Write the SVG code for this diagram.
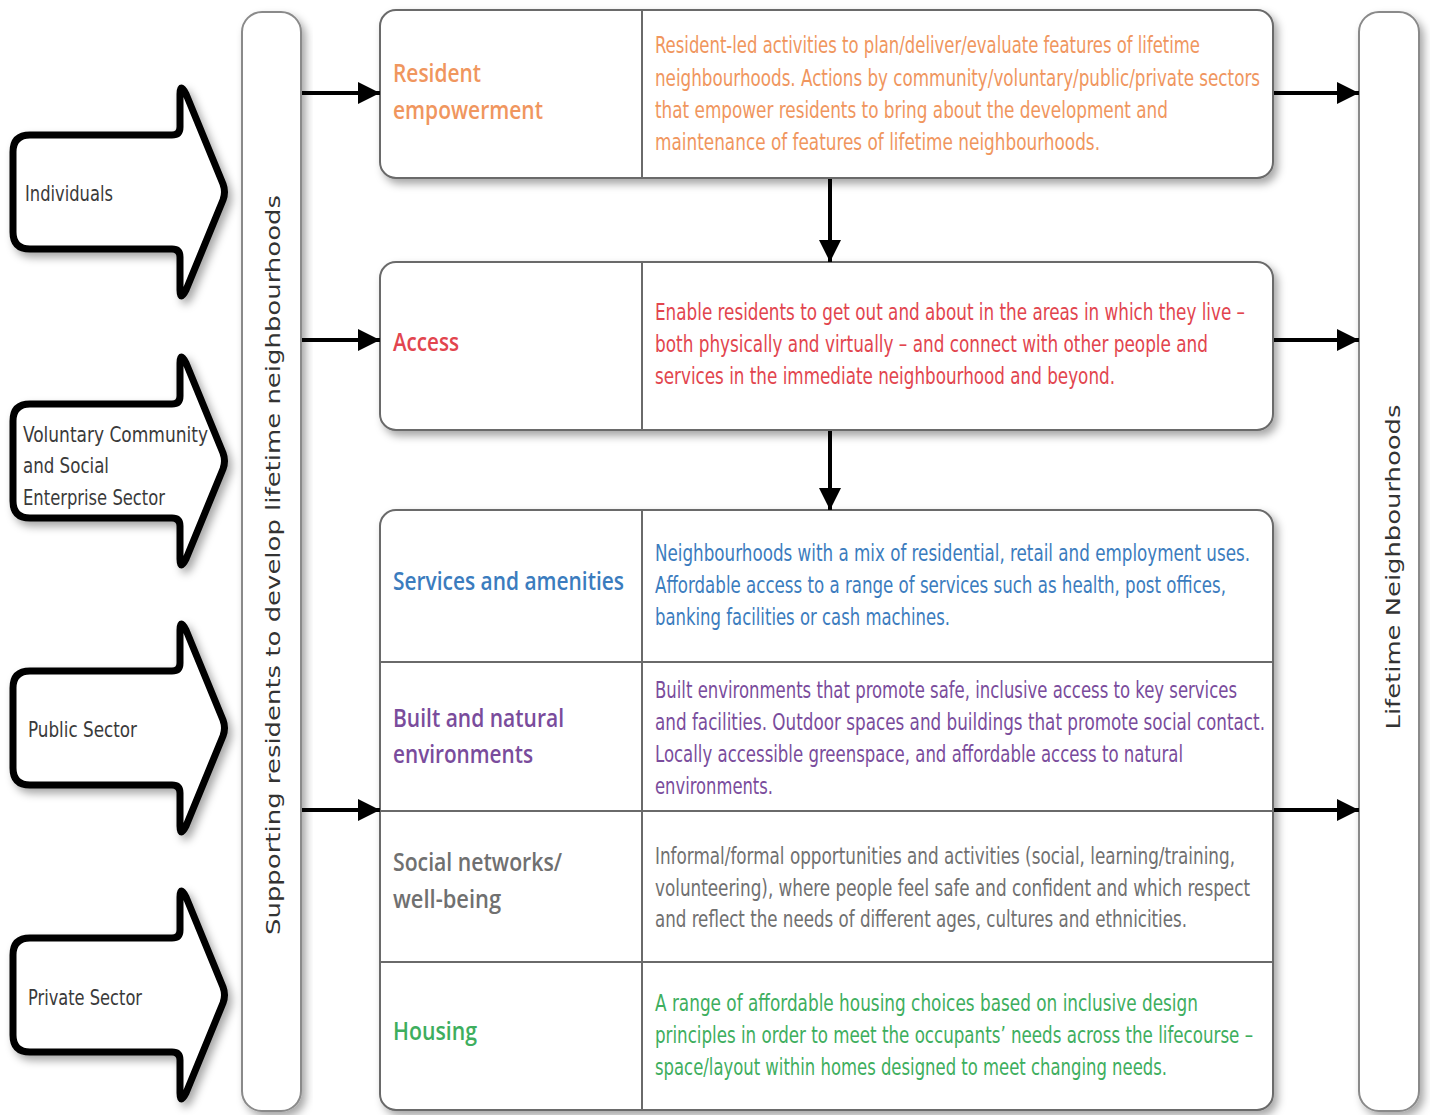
<svg xmlns="http://www.w3.org/2000/svg" width="1430" height="1115" viewBox="0 0 1430 1115">
<defs>
<filter id="sh" x="-10%" y="-10%" width="130%" height="130%">
<feDropShadow dx="4" dy="5" stdDeviation="4" flood-color="#000" flood-opacity="0.35"/>
</filter>
<marker id="ah" markerUnits="userSpaceOnUse" markerWidth="24" markerHeight="24" refX="22" refY="11" orient="auto">
<path d="M0,0 L22,11 L0,22 z" fill="#000"/>
</marker>
<path id="blk" d="M30,-57 L172,-57 Q180,-57 180,-65 L180,-98 Q180,-110 186,-98 L223,-8 Q226,0 223,8 L186,98 Q180,110 180,98 L180,65 Q180,57 172,57 L30,57 Q13,57 13,40 L13,-40 Q13,-57 30,-57 Z"/>
</defs>
<style>
.box{fill:#fff;stroke:#6a6a6a;stroke-width:2}
.bar{fill:#fff;stroke:#8a8a8a;stroke-width:2}
.div{stroke:#6a6a6a;stroke-width:2}
.blk{fill:#fff;stroke:#000;stroke-width:7;stroke-linejoin:round}
.lbl{font-family:"Liberation Sans Narrow","DejaVu Sans Condensed","Liberation Sans",sans-serif;font-size:22px;fill:#3a3a3a}
.d{font-family:"Liberation Sans Narrow","DejaVu Sans Condensed","Liberation Sans",sans-serif;font-size:23px}
.t{font-family:"Open Sans","DejaVu Sans",sans-serif;font-size:25px;font-weight:600}
.v{font-family:"DejaVu Sans","Liberation Sans",sans-serif;font-size:20px;fill:#333}
.con{stroke:#000;stroke-width:4;fill:none;marker-end:url(#ah)}
.or{fill:#F0965E}.rd{fill:#E2454E}.bl{fill:#3B7CBE}.pu{fill:#7A4C9C}.gy{fill:#707070}.gr{fill:#3EAE5E}
</style>

<g id="src-individuals">
<use href="#blk" class="blk" transform="translate(0,192)" filter="url(#sh)"/>
<text class="lbl" x="25" y="201" textLength="88" lengthAdjust="spacingAndGlyphs">Individuals</text>
</g>
<g id="src-voluntary">
<use href="#blk" class="blk" transform="translate(0,461)" filter="url(#sh)"/>
<text class="lbl" x="23" y="442" textLength="185" lengthAdjust="spacingAndGlyphs">Voluntary Community</text>
<text class="lbl" x="23" y="473" textLength="86" lengthAdjust="spacingAndGlyphs">and Social</text>
<text class="lbl" x="23" y="505" textLength="142" lengthAdjust="spacingAndGlyphs">Enterprise Sector</text>
</g>
<g id="src-public">
<use href="#blk" class="blk" transform="translate(0,728)" filter="url(#sh)"/>
<text class="lbl" x="28" y="737" textLength="109" lengthAdjust="spacingAndGlyphs">Public Sector</text>
</g>
<g id="src-private">
<use href="#blk" class="blk" transform="translate(0,995)" filter="url(#sh)"/>
<text class="lbl" x="28" y="1005" textLength="114" lengthAdjust="spacingAndGlyphs">Private Sector</text>
</g>

<g id="support-bar">
<rect class="bar" x="242" y="12" width="59" height="1099" rx="20" filter="url(#sh)"/>
<text class="v" transform="translate(280,565) rotate(-90)" text-anchor="middle" textLength="740" lengthAdjust="spacingAndGlyphs">Supporting residents to develop lifetime neighbourhoods</text>
</g>

<g id="lifetime-bar">
<rect class="bar" x="1359" y="12" width="60" height="1099" rx="20" filter="url(#sh)"/>
<text class="v" transform="translate(1400,567) rotate(-90)" text-anchor="middle" textLength="325" lengthAdjust="spacingAndGlyphs">Lifetime Neighbourhoods</text>
</g>

<g id="resident-empowerment">
<rect class="box" x="380" y="10" width="893" height="168" rx="16" filter="url(#sh)"/>
<line class="div" x1="642" y1="10" x2="642" y2="178"/>
<text class="t or" x="393" y="82" textLength="88" lengthAdjust="spacingAndGlyphs">Resident</text>
<text class="t or" x="393" y="119" textLength="150" lengthAdjust="spacingAndGlyphs">empowerment</text>
<text class="d or" x="655" y="53" textLength="545" lengthAdjust="spacingAndGlyphs">Resident-led activities to plan/deliver/evaluate features of lifetime</text>
<text class="d or" x="655" y="86" textLength="605" lengthAdjust="spacingAndGlyphs">neighbourhoods. Actions by community/voluntary/public/private sectors</text>
<text class="d or" x="655" y="118" textLength="513" lengthAdjust="spacingAndGlyphs">that empower residents to bring about the development and</text>
<text class="d or" x="655" y="150" textLength="445" lengthAdjust="spacingAndGlyphs">maintenance of features of lifetime neighbourhoods.</text>
</g>

<g id="access">
<rect class="box" x="380" y="262" width="893" height="168" rx="16" filter="url(#sh)"/>
<line class="div" x1="642" y1="262" x2="642" y2="430"/>
<text class="t rd" x="393" y="351" textLength="66" lengthAdjust="spacingAndGlyphs">Access</text>
<text class="d rd" x="655" y="320" textLength="590" lengthAdjust="spacingAndGlyphs">Enable residents to get out and about in the areas in which they live –</text>
<text class="d rd" x="655" y="352" textLength="553" lengthAdjust="spacingAndGlyphs">both physically and virtually – and connect with other people and</text>
<text class="d rd" x="655" y="384" textLength="460" lengthAdjust="spacingAndGlyphs">services in the immediate neighbourhood and beyond.</text>
</g>

<g id="features">
<rect class="box" x="380" y="510" width="893" height="600" rx="16" filter="url(#sh)"/>
<line class="div" x1="642" y1="510" x2="642" y2="1110"/>
<line class="div" x1="380" y1="662" x2="1273" y2="662"/>
<line class="div" x1="380" y1="811" x2="1273" y2="811"/>
<line class="div" x1="380" y1="962" x2="1273" y2="962"/>
</g>
<g id="services">
<text class="t bl" x="393" y="590" textLength="231" lengthAdjust="spacingAndGlyphs">Services and amenities</text>
<text class="d bl" x="655" y="561" textLength="595" lengthAdjust="spacingAndGlyphs">Neighbourhoods with a mix of residential, retail and employment uses.</text>
<text class="d bl" x="655" y="593" textLength="571" lengthAdjust="spacingAndGlyphs">Affordable access to a range of services such as health, post offices,</text>
<text class="d bl" x="655" y="625" textLength="295" lengthAdjust="spacingAndGlyphs">banking facilities or cash machines.</text>
</g>
<g id="built">
<text class="t pu" x="393" y="727" textLength="171" lengthAdjust="spacingAndGlyphs">Built and natural</text>
<text class="t pu" x="393" y="763" textLength="140" lengthAdjust="spacingAndGlyphs">environments</text>
<text class="d pu" x="655" y="698" textLength="582" lengthAdjust="spacingAndGlyphs">Built environments that promote safe, inclusive access to key services</text>
<text class="d pu" x="655" y="730" textLength="610" lengthAdjust="spacingAndGlyphs">and facilities. Outdoor spaces and buildings that promote social contact.</text>
<text class="d pu" x="655" y="762" textLength="528" lengthAdjust="spacingAndGlyphs">Locally accessible greenspace, and affordable access to natural</text>
<text class="d pu" x="655" y="794" textLength="118" lengthAdjust="spacingAndGlyphs">environments.</text>
</g>
<g id="social">
<text class="t gy" x="393" y="871" textLength="169" lengthAdjust="spacingAndGlyphs">Social networks/</text>
<text class="t gy" x="393" y="908" textLength="108" lengthAdjust="spacingAndGlyphs">well-being</text>
<text class="d gy" x="655" y="864" textLength="580" lengthAdjust="spacingAndGlyphs">Informal/formal opportunities and activities (social, learning/training,</text>
<text class="d gy" x="655" y="896" textLength="595" lengthAdjust="spacingAndGlyphs">volunteering), where people feel safe and confident and which respect</text>
<text class="d gy" x="655" y="927" textLength="532" lengthAdjust="spacingAndGlyphs">and reflect the needs of different ages, cultures and ethnicities.</text>
</g>
<g id="housing">
<text class="t gr" x="393" y="1040" textLength="84" lengthAdjust="spacingAndGlyphs">Housing</text>
<text class="d gr" x="655" y="1011" textLength="543" lengthAdjust="spacingAndGlyphs">A range of affordable housing choices based on inclusive design</text>
<text class="d gr" x="655" y="1043" textLength="598" lengthAdjust="spacingAndGlyphs">principles in order to meet the occupants’ needs across the lifecourse –</text>
<text class="d gr" x="655" y="1075" textLength="512" lengthAdjust="spacingAndGlyphs">space/layout within homes designed to meet changing needs.</text>
</g>

<g id="connectors">
<line class="con" x1="302" y1="93" x2="380" y2="93"/>
<line class="con" x1="302" y1="340" x2="380" y2="340"/>
<line class="con" x1="302" y1="810" x2="380" y2="810"/>
<line class="con" x1="1274" y1="93" x2="1359" y2="93"/>
<line class="con" x1="1274" y1="340" x2="1359" y2="340"/>
<line class="con" x1="1274" y1="810" x2="1359" y2="810"/>
<line class="con" x1="830" y1="179" x2="830" y2="262"/>
<line class="con" x1="830" y1="431" x2="830" y2="510"/>
</g>
</svg>
